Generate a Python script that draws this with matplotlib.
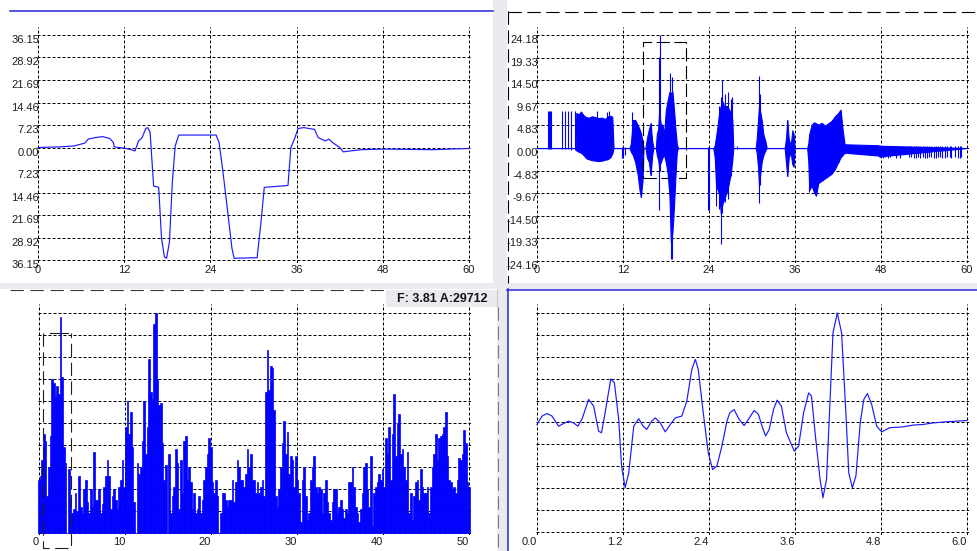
import matplotlib
matplotlib.use("Agg")
import matplotlib.pyplot as plt
from matplotlib.lines import Line2D
from matplotlib.patches import Rectangle
import numpy as np

plt.rcParams['font.family'] = ['Liberation Sans', 'DejaVu Sans']

#-------------------------------------------------------------------------------
# Data
#-------------------------------------------------------------------------------

# top left: slow trace
tl_t = [0, 3, 5, 6.5, 7, 8, 9, 10, 10.5, 10.6, 12, 13, 13.5, 14, 14.5, 15, 15.25,
        15.6, 16.1, 16.8, 17.2, 17.6, 17.9, 18.3, 18.7, 19.1, 19.6, 24.5, 24.8,
        25.2, 25.7, 26.3, 27.0, 27.3, 30.5, 31.0, 31.5, 34.8, 35.2, 35.7, 36.2,
        37.0, 38.5, 39.0, 40.0, 40.5, 41.0, 42.0, 42.5, 43.5, 45, 48, 55, 60]
tl_v = [0.0, 0.2, 0.5, 1.4, 2.7, 3.2, 3.5, 2.9, 1.6, 0.2, -0.2, -0.7, -1.1, 2.1,
        3.2, 6.1, 6.4, 5.0, -12.4, -12.8, -29.2, -35.1, -35.6, -30.3, -11.2, 0.5,
        4.0, 4.0, 4.0, 1.6, -6.9, -18.6, -32.4, -35.6, -35.4, -25.0, -12.8, -12.2,
        0.0, 2.7, 6.1, 6.4, 5.8, 3.2, 2.1, 2.7, 1.6, 0.0, -1.4, -1.1, -0.7, -0.5,
        -0.7, -0.3]
tl_yticks = [36.15, 28.92, 21.69, 14.46, 7.23, 0.0, -7.23, -14.46, -21.69, -28.92, -36.15]
tl_ylabels = ['36.15', '28.92', '21.69', '14.46', '7.23', '0.00', '7.23', '14.46',
              '21.69', '28.92', '36.15']

# top right: burst signal, envelope of the dense parts plus single spikes
sig_t = [0.0, 5.39, 5.48, 5.81, 6.13, 6.50, 6.87, 7.25, 7.66, 8.13, 8.59, 9.06,
         9.52, 9.85, 10.22, 10.50, 10.68,
         12.91, 13.10, 13.38, 13.70, 14.03, 14.31, 14.49, 14.72, 14.86,
         15.14, 15.33, 15.61, 15.84, 16.07, 16.26,
         16.58, 16.72, 16.90, 17.04, 17.28, 17.51, 17.74, 17.97, 18.20, 18.48,
         18.67, 18.90, 19.13, 19.32, 19.50, 19.65,
         24.60, 24.80, 24.99, 25.22, 25.45, 25.64, 25.87, 26.10, 26.33, 26.56,
         26.84, 27.07, 27.25, 27.39,
         30.51, 30.66, 30.84, 30.98, 31.12, 31.35, 31.58, 31.86, 32.05,
         34.56, 34.74, 34.93, 35.12, 35.40, 35.63, 35.81, 35.95,
         37.70, 37.86, 38.00, 38.32, 38.65, 38.93, 39.25, 39.72, 40.18, 40.64,
         41.10, 41.57, 42.03, 42.36, 42.64, 42.92, 47.60, 47.75, 60.0]
sig_hi = [0, 0, 7.5, 7.2, 7.8, 7.0, 6.6, 6.5, 6.8, 6.6, 6.4, 6.5,
          6.2, 6.8, 6.9, 6.7, 0,
          0, 1.0, 6.0, 6.0, 5.0, 4.0, 3.2, 1.5, 0,
          0, 2.0, 4.0, 5.3, 1.5, 0,
          0, 3.0, 4.0, 7.5, 5.0, 5.0, 3.0, 8.0, 10.0, 12.0,
          11.0, 12.0, 8.0, 4.0, 1.0, 0,
          0, 0.5, 2.5, 5.0, 8.0, 9.0, 10.0, 9.0, 9.0, 9.0,
          8.0, 8.0, 6.0, 0,
          0, 2.0, 6.0, 9.0, 8.0, 6.0, 3.0, 1.5, 0,
          0, 2.0, 6.0, 2.0, 0.5, 3.8, 3.0, 0,
          0, 1.0, 3.0, 5.0, 5.5, 5.3, 5.0, 5.4, 4.8, 5.3,
          5.8, 6.8, 7.5, 8.2, 4.0, 0.8, 0.6, 0.5, 0.0]
sig_lo = [0, 0, -0.5, -0.8, -1.0, -1.5, -2.2, -2.4, -2.6, -2.7, -2.8, -2.7,
          -2.5, -2.4, -2.0, -1.2, 0,
          0, -0.8, -1.5, -3.0, -5.5, -9.0, -10.5, -7.0, 0,
          0, -2.0, -3.0, -5.8, -1.5, 0,
          0, -1.5, -2.5, -4.0, -3.0, -2.0, -1.5, -3.0, -5.0, -10.0,
          -20.0, -18.0, -12.0, -6.0, -1.0, 0,
          0, -2.0, -8.0, -9.0, -10.0, -14.0, -12.0, -11.0, -10.0, -9.0,
          -7.0, -5.0, -2.5, 0,
          0, -1.0, -4.0, -8.0, -6.0, -3.0, -1.5, -0.5, 0,
          0, -3.0, -6.0, -2.0, -1.0, -3.5, -4.0, 0,
          0, -3.0, -9.0, -8.0, -9.5, -10.2, -7.5, -7.0, -6.5, -6.0,
          -5.5, -4.5, -3.0, -2.0, -1.5, -1.0, -1.6, -1.8, 0.0]
spike_t = [1.49, 1.67, 1.86, 1.95, 3.44, 3.95, 4.27, 4.78, 5.25, 8.36, 9.80, 10.10,
           11.84, 11.98, 12.22, 13.30, 14.49, 15.90, 17.05, 17.15, 18.55, 18.70,
           18.80, 23.92, 24.06, 25.00, 25.45, 25.70, 25.87, 26.30, 26.60, 27.10,
           27.25, 27.87, 30.98, 31.10, 34.90, 38.00, 42.10, 42.25,
           47.84, 48.21, 48.54, 49.00, 49.23, 50.16, 50.72, 51.88, 52.25, 52.58,
           52.95, 53.18, 53.51, 53.88, 54.11, 54.44, 54.71, 55.04, 55.36, 55.64,
           55.97, 56.20, 56.57, 56.90, 57.22, 57.60, 57.83, 58.29, 58.76, 58.99, 59.22]
spike_lo = [-0.3, -0.3, -0.3, -0.3, -0.2, -0.2, -0.2, -0.4, -0.4, -2.7, -2.4, -2.0,
            -2.1, -2.1, -1.5, -1.0, -10.5, -5.8, -13.2, -5.0, -11.0, -23.8,
            -23.8, -13.2, -13.2, -12.5, -13.0, -20.5, -14.0, -11.5, -11.0, -6.0,
            -3.0, -0.3, -11.7, -8.0, -6.0, -9.5, -3.0, -2.0,
            -2.0, -2.1, -1.9, -2.2, -2.0, -2.1, -2.2, -1.9, -2.0, -2.1,
            -2.2, -1.9, -2.1, -2.0, -2.2, -2.1, -1.9, -2.0, -2.2, -2.1,
            -1.9, -2.0, -2.1, -2.2, -2.0, -1.9, -2.1, -2.0, -2.2, -2.1, -1.9]
spike_hi = [8.0, 8.0, 8.0, 8.0, 8.0, 8.0, 8.0, 8.0, 8.0, 8.0, 7.8, 8.0,
            0.3, 0.3, 0.3, 7.8, 3.0, 5.3, 19.5, 24.2, 16.0, 12.0,
            15.3, 0.3, 0.3, 1.0, 9.0, 11.0, 14.5, 11.5, 12.0, 10.5,
            11.0, 0.4, 15.5, 11.5, 6.0, 3.0, 7.5, 8.2,
            0.5, 0.4, 0.5, 0.5, 0.4, 0.3, 0.3, 0.4, 0.5, 0.5,
            0.4, 0.5, 0.5, 0.4, 0.5, 0.5, 0.4, 0.5, 0.5, 0.4,
            0.5, 0.5, 0.4, 0.5, 0.5, 0.4, 0.5, 0.5, 0.4, 0.5, 0.5]
tr_yticks = [24.18, 19.33, 14.50, 9.67, 4.83, 0.0, -4.83, -9.67, -14.50, -19.33, -24.16]
tr_ylabels = ['24.18', '19.33', '14.50', '9.67', '4.83', '0.00', '-4.83', '-9.67',
              '-14.50', '-19.33', '-24.16']

time_ticks = [0, 12, 24, 36, 48, 60]
time_labels = ['0', '12', '24', '36', '48', '60']

# bottom left: amplitude spectrum (grid units, 0..10), bins spread over 0..50
spec_amp = [
    2.4, 2.6, 3.3, 4.5, 4.2, 1.7, 3.0, 4.4, 7.0, 6.8, 6.2, 6.7, 6.3, 9.8, 7.1, 3.9, 3.2, 0.0, 2.9, 1.6,
    0.9, 1.1, 1.8, 1.0, 2.6, 1.2, 0.9, 2.0, 2.4, 1.4, 0.9, 2.0, 1.2, 3.7, 1.5, 1.5, 2.0, 0.9, 1.3, 2.1,
    2.6, 3.3, 2.6, 1.1, 1.7, 2.0, 1.5, 1.1, 2.1, 2.4, 3.3, 2.1, 4.8, 6.0, 4.5, 5.5, 3.9, 1.4, 0.0, 3.2,
    2.7, 3.0, 4.2, 6.0, 3.6, 4.8, 7.9, 6.4, 6.1, 9.5, 10.0, 7.0, 5.8, 5.9, 4.1, 2.4, 3.1, 0.0, 3.6, 0.9,
    1.7, 2.1, 3.8, 3.2, 1.1, 3.3, 1.8, 4.2, 4.4, 2.4, 3.0, 2.3, 1.1, 1.8, 0.9, 1.1, 1.7, 0.9, 1.5, 2.4,
    3.0, 3.6, 4.3, 3.9, 2.3, 1.8, 2.4, 1.7, 0.0, 0.9, 1.8, 1.8, 1.5, 1.2, 1.5, 1.5, 2.4, 1.4, 2.3, 3.3,
    3.0, 2.4, 2.4, 2.1, 2.7, 3.8, 3.0, 3.6, 2.4, 2.4, 1.8, 2.3, 1.8, 2.1, 2.4, 1.7, 6.4, 8.3, 6.5, 7.6,
    7.5, 5.6, 1.7, 1.2, 2.0, 3.0, 4.1, 5.1, 3.6, 4.6, 2.7, 3.5, 3.3, 2.1, 3.5, 2.4, 1.8, 0.5, 2.4, 3.0,
    1.7, 0.6, 0.9, 2.4, 3.0, 3.5, 2.1, 1.8, 2.1, 2.0, 0.9, 1.8, 2.4, 1.4, 0.9, 0.6, 1.4, 2.0, 2.0, 0.9,
    1.2, 1.5, 1.1, 0.7, 1.1, 0.9, 2.3, 2.3, 3.0, 2.1, 1.2, 0.9, 0.5, 1.1, 1.8, 3.0, 3.2, 2.0, 1.2, 3.5,
    0.3, 1.8, 2.1, 2.3, 2.7, 2.4, 2.9, 2.1, 4.3, 3.6, 4.8, 2.4, 4.5, 6.3, 3.5, 5.0, 5.4, 3.6, 3.8, 3.0,
    2.4, 3.7, 0.9, 1.8, 0.6, 1.7, 2.3, 2.4, 1.5, 2.9, 2.1, 1.8, 1.8, 2.1, 0.9, 2.1, 3.0, 3.6, 4.5, 3.3,
    4.3, 4.4, 4.5, 4.8, 5.5, 3.5, 2.4, 2.3, 2.0, 2.1, 1.8, 2.4, 3.4, 3.3, 3.6, 4.7, 4.1, 2.3, 2.1]
spec_fmax = 50
freq_ticks = [0, 10, 20, 30, 40, 50]
freq_labels = ['0', '10', '20', '30', '40', '50']
spec_readout = 'F: 3.81 A:29712'

# bottom right: zoomed waveform (grid units, -5..5)
osc_t = [0.00, 0.07, 0.14, 0.21, 0.30, 0.37, 0.44, 0.51, 0.57, 0.63, 0.72, 0.79,
         0.86, 0.90, 0.95, 1.03, 1.08, 1.14, 1.18, 1.23, 1.28, 1.35, 1.42, 1.48,
         1.53, 1.60, 1.65, 1.72, 1.79, 1.86, 1.93, 2.02, 2.09, 2.16, 2.21, 2.25,
         2.32, 2.39, 2.45, 2.51, 2.58, 2.65, 2.69, 2.75, 2.82, 2.89, 2.95, 3.03,
         3.09, 3.14, 3.19, 3.24, 3.30, 3.35, 3.41, 3.48, 3.59, 3.65, 3.72, 3.79,
         3.83, 3.89, 3.95, 3.99, 4.04, 4.09, 4.13, 4.19, 4.25, 4.31, 4.35, 4.40,
         4.45, 4.51, 4.56, 4.61, 4.67, 4.74, 4.81, 4.92, 5.11, 5.25, 5.39, 5.53,
         5.71, 5.85, 6.00]
osc_v = [-0.09, 0.29, 0.41, 0.29, -0.17, -0.05, 0.06, -0.02, -0.17, 0.17, 1.05, 0.75,
         -0.40, -0.47, 0.44, 1.99, 1.81, 0.14, -1.99, -2.98, -2.30, -0.17, 0.17, -0.17,
         -0.32, 0.06, 0.21, -0.02, -0.43, -0.09, 0.21, 0.29, 0.97, 2.42, 2.88, 2.42,
         0.44, -1.39, -2.15, -1.99, -1.08, 0.06, 0.44, 0.59, 0.14, -0.14, 0.14, 0.55,
         0.37, -0.17, -0.62, -0.32, 0.59, 1.02, 0.75, -0.47, -1.31, -1.08, 0.44, 1.35,
         1.20, -0.78, -2.60, -3.44, -2.60, 1.05, 4.09, 5.00, 4.09, 0.44, -2.30, -2.98,
         -2.45, -0.02, 1.05, 1.32, 0.82, -0.17, -0.43, -0.24, -0.20, -0.12, -0.09, -0.02,
         0.03, 0.06, 0.09]
osc_ticks = [0.0, 1.2, 2.4, 3.6, 4.8, 6.0]
osc_labels = ['0.0', '1.2', '2.4', '3.6', '4.8', '6.0']


#-------------------------------------------------------------------------------
# Figure
#-------------------------------------------------------------------------------

W, H = 977, 551
BLUE = '#0000ff'
LINE_BLUE = '#1a1aff'
FRAME_BLUE = '#2424dc'
STRIP = '#ebeaef'
GRID = dict(color='black', linewidth=0.72, linestyle=(0, (3, 2)))

fig = plt.figure(figsize=(W / 100, H / 100), dpi=100)
fig.patch.set_facecolor('white')


def px_box(left, top, right, bottom):
    return [left / W, 1 - bottom / H, (right - left) / W, (bottom - top) / H]


def fig_line(xs, ys, **kw):
    fig.add_artist(Line2D([x / W for x in xs], [1 - y / H for y in ys],
                          transform=fig.transFigure, **kw))


def fig_rect(left, top, right, bottom, **kw):
    fig.add_artist(Rectangle((left / W, 1 - bottom / H), (right - left) / W,
                             (bottom - top) / H, transform=fig.transFigure, **kw))


def style(ax, xticks, xlabels, yticks, ylabels, xalign):
    ax.set_facecolor('none')
    ax.set_axisbelow(True)
    for s in ax.spines.values():
        s.set_visible(False)
    ax.set_xticks(xticks, xlabels)
    ax.set_yticks(yticks, ylabels)
    ax.grid(True, **GRID)
    ax.tick_params(length=0, labelsize=8, labelcolor='#1e1e1e')
    ax.tick_params(axis='x', pad=1.2)
    ax.tick_params(axis='y', pad=-1.5)
    for lab in ax.get_xticklabels():
        lab.set_ha(xalign)
    for lab in ax.get_yticklabels():
        lab.set_va('top')


# window chrome: grey splitters and panel frames
fig_rect(493, 0, 507, 283, fc=STRIP, ec='none')
fig_rect(0, 283, W, 289, fc=STRIP, ec='none')
fig_rect(497, 289, 507, H, fc=STRIP, ec='none')
fig_line([10, 493], [11, 11], color=FRAME_BLUE, lw=1.1)
fig_line([508, W], [11.5, 11.5], color='black', lw=0.8, ls=(0, (12, 5)))
fig_line([508, 508], [11, 283], color='black', lw=0.8, ls=(0, (12, 5)))
fig_line([10, 386], [289.5, 289.5], color='#3a3a3a', lw=0.8, ls=(0, (12, 6)))
fig_line([497.5, 497.5], [307, H], color='#7a7a7a', lw=0.8, ls=(0, (12, 5)))
fig_line([507, W], [289.5, 289.5], color=FRAME_BLUE, lw=1.1)
fig_line([507.5, 507.5], [289, H], color=FRAME_BLUE, lw=1.1)

# readout box of the spectrum
fig_rect(386, 290, 498, 307, fc='#eceaee', ec='none')
fig_line([497, 497], [290, 307], color='#c8c8c8', lw=0.8)
fig.text(442 / W, 1 - 298.5 / H, spec_readout, ha='center', va='center',
         fontsize=9, fontweight='bold', color='#141414')

# top left
ax1 = fig.add_axes(px_box(37, 27, 471, 263))
ax1.plot(tl_t, tl_v, color=LINE_BLUE, lw=0.85)
ax1.set_xlim(-0.139, 60.278)
ax1.set_ylim(-37.11, 38.72)
style(ax1, time_ticks, time_labels, tl_yticks, tl_ylabels, 'center')

# top right
ax2 = fig.add_axes(px_box(536, 27, 969, 263))
ax2.fill_between(sig_t, sig_lo, sig_hi, color=BLUE, lw=0.8)
ax2.vlines(spike_t, spike_lo, spike_hi, color=BLUE, lw=0.8)
ax2.add_patch(Rectangle((14.8, -6.4), 6.0, 29.08, fill=False, ec='black',
                        lw=0.8, ls=(0, (12, 4))))
ax2.set_xlim(-0.14, 60.28)
ax2.set_ylim(-24.59, 25.89)
style(ax2, time_ticks, time_labels, tr_yticks, tr_ylabels, 'center')

# bottom left
spec_f = np.linspace(0, spec_fmax, len(spec_amp))
ax3 = fig.add_axes(px_box(38, 304, 471, 535))
ax3.bar(spec_f, spec_amp, width=spec_f[1] - spec_f[0], color=BLUE,
        edgecolor=BLUE, lw=0.5)
ax3.plot([0.5, 0.5, 3.72, 3.72], [9.09, -0.68, -0.68, 9.09], color='#202020',
         lw=0.8, ls=(0, (12, 5)), clip_on=False)
ax3.plot([1.28, 3.37], [9.09, 9.09], color='#202020', lw=0.8)
ax3.set_xlim(-0.116, 50.23)
ax3.set_ylim(-0.09, 10.41)
style(ax3, freq_ticks, freq_labels, list(range(11)), [''] * 11, 'right')

# bottom right
ax4 = fig.add_axes(px_box(536, 304, 969, 535))
ax4.plot(osc_t, osc_v, color=LINE_BLUE, lw=0.85)
ax4.set_xlim(-0.014, 6.028)
ax4.set_ylim(-5.14, 5.41)
style(ax4, osc_ticks, osc_labels, list(range(-5, 6)), [''] * 11, 'right')

fig.savefig('out.png', dpi=100)
